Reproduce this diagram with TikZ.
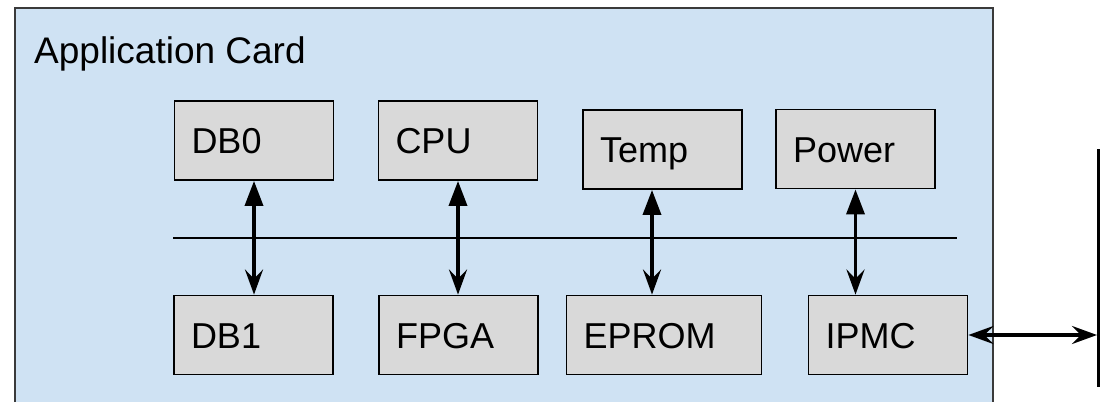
\documentclass[tikz,border=0pt]{standalone}
\usepackage{fontspec}
\setmainfont{Liberation Sans}
\usetikzlibrary{arrows.meta}

\definecolor{cardfill}{HTML}{CFE2F3}
\definecolor{unitfill}{HTML}{D9D9D9}
\definecolor{cardline}{HTML}{3A3A3A}

\begin{document}
\begin{tikzpicture}[x=1pt,y=-1pt,
  unit/.style={draw=black, line width=1.8pt, fill=unitfill, rectangle,
    minimum width=159pt, minimum height=79pt, inner xsep=17pt, inner ysep=0pt,
    text width=125pt, align=left, text height=26pt, text depth=0pt,
    font=\fontsize{36}{36}\selectfont},
  wideunit/.style={unit, minimum width=195pt, text width=161pt},
  link/.style={line width=3.5pt,
    {Triangle[length=25pt,width=18pt]}-{Stealth[length=25pt,width=18pt,inset=9pt]}},
  extlink/.style={line width=3.5pt,
    {Stealth[length=25pt,width=18pt,inset=9pt]}-{Stealth[length=25pt,width=18pt,inset=9pt]}},
  bus/.style={line width=2pt},
  backplane/.style={line width=3pt}]

\useasboundingbox (0,0) rectangle (1103,402);

% card outline, open at the bottom
\fill[cardfill] (15,8) rectangle (993,402);
\draw[cardline, line width=1.6pt] (15,402) -- (15,8) -- (993,8) -- (993,402);
\node[anchor=base west, inner sep=0pt, font=\fontsize{37}{37}\selectfont] (title) at (34,63) {Application Card};

% internal bus
\coordinate (busL) at (173,238);
\coordinate (busR) at (957,238);
\draw[bus] (busL) -- (busR);

% upper row
\node[unit] (db0)   at (254,140.5)   {DB0};
\node[unit] (cpu)   at (458,140.5)   {CPU};
\node[unit] (temp)  at (662.5,149.5) {Temp};
\node[unit] (power) at (855.5,149)   {Power};

% lower row
\node[unit]     (db1)   at (253.5,335) {DB1};
\node[unit]     (fpga)  at (458.5,335) {FPGA};
\node[wideunit] (eprom) at (664,335)   {EPROM};
\node[unit]     (ipmc)  at (888,335)   {IPMC};

% links through the bus
\draw[link] (db0.south) -- (db0.south |- db1.north);
\draw[link] (cpu.south) -- (cpu.south |- fpga.north);
\draw[link] ([xshift=-10.5pt]temp.south) -- ([xshift=-10.5pt]temp.south |- eprom.north);
\draw[link] (power.south) -- (power.south |- ipmc.north);

% backplane bar and external link
\coordinate (bpTop) at (1098.5,149);
\coordinate (bpBot) at (1098.5,387);
\draw[backplane] (bpTop) -- (bpBot);
\draw[extlink, shorten >=1.5pt] (ipmc.east) -- (ipmc.east -| bpTop);

\end{tikzpicture}
\end{document}
